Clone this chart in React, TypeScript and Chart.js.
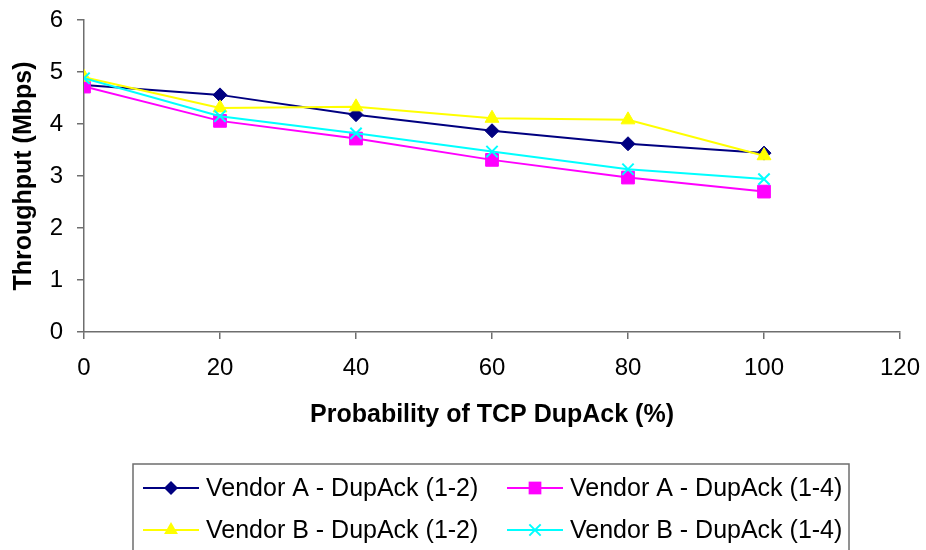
import React, { useEffect, useRef } from "react";
import { Chart, registerables } from "chart.js";

Chart.register(...registerables);

// Probability of TCP DupAck (%)
const dupAckProbability = [0, 20, 40, 60, 80, 100];

// Throughput (Mbps) per vendor / DupAck setting
const vendorA12 = [4.75, 4.56, 4.18, 3.87, 3.62, 3.44];
const vendorA14 = [4.72, 4.06, 3.72, 3.31, 2.97, 2.7];
const vendorB12 = [4.9, 4.31, 4.33, 4.11, 4.08, 3.39];
const vendorB14 = [4.88, 4.15, 3.82, 3.47, 3.13, 2.94];

const seriesLabels = [
  "Vendor A - DupAck (1-2)",
  "Vendor A - DupAck (1-4)",
  "Vendor B - DupAck (1-2)",
  "Vendor B - DupAck (1-4)",
];

const FONT = "'Liberation Sans', Arial, sans-serif";
const AXIS_COLOR = "#6e6e6e";

type Marker = "rectRot" | "rect" | "triangle" | "crossRot";

function drawMarker(ctx: CanvasRenderingContext2D, style: Marker, x: number, y: number, r: number, color: string) {
  ctx.save();
  ctx.fillStyle = color;
  ctx.strokeStyle = color;
  ctx.lineWidth = 2;
  ctx.beginPath();
  if (style === "rectRot") {
    ctx.moveTo(x - r, y);
    ctx.lineTo(x, y - r);
    ctx.lineTo(x + r, y);
    ctx.lineTo(x, y + r);
    ctx.closePath();
    ctx.fill();
  } else if (style === "rect") {
    const s = Math.SQRT1_2 * r;
    ctx.rect(x - s, y - s, 2 * s, 2 * s);
    ctx.fill();
  } else if (style === "triangle") {
    const h = r * 1.5;
    ctx.moveTo(x, y - r);
    ctx.lineTo(x + r * Math.sqrt(3) / 2, y - r + h);
    ctx.lineTo(x - r * Math.sqrt(3) / 2, y - r + h);
    ctx.closePath();
    ctx.fill();
  } else {
    const o = Math.SQRT1_2 * r;
    ctx.moveTo(x - o, y - o);
    ctx.lineTo(x + o, y + o);
    ctx.moveTo(x + o, y - o);
    ctx.lineTo(x - o, y + o);
    ctx.stroke();
  }
  ctx.restore();
}

// Boxed two-column legend under the plot, built from the datasets' own styles
const boxedLegend = {
  id: "boxedLegend",
  afterDraw(chart: any) {
    const ctx: CanvasRenderingContext2D = chart.ctx;
    const box = { left: 133, top: 464, right: 849, bottom: 570 };
    ctx.save();
    ctx.strokeStyle = AXIS_COLOR;
    ctx.lineWidth = 1.5;
    ctx.strokeRect(box.left, box.top, box.right - box.left, box.bottom - box.top);

    const colX = [143, 507];
    const rowY = [488, 530];
    const lineLen = 56;
    ctx.font = `25px ${FONT}`;
    ctx.textBaseline = "middle";
    ctx.textAlign = "left";
    chart.data.datasets.forEach((ds: any, i: number) => {
      const x0 = colX[i % 2];
      const y = rowY[Math.floor(i / 2)];
      ctx.strokeStyle = ds.borderColor;
      ctx.lineWidth = ds.borderWidth;
      ctx.beginPath();
      ctx.moveTo(x0, y);
      ctx.lineTo(x0 + lineLen, y);
      ctx.stroke();
      drawMarker(ctx, ds.pointStyle, x0 + lineLen / 2, y, ds.pointRadius, ds.borderColor);
      ctx.fillStyle = "#000";
      ctx.fillText(ds.label, x0 + lineLen + 7, y + 1);
    });
    ctx.restore();
  },
};

export default function App() {
  const canvasRef = useRef<HTMLCanvasElement | null>(null);

  useEffect(() => {
    const canvas = canvasRef.current;
    if (!canvas) return;

    const makeSeries = (values: number[]) =>
      dupAckProbability.map((x, i) => ({ x, y: values[i] }));

    const chart = new Chart(canvas, {
      type: "line",
      data: {
        datasets: [
          {
            label: seriesLabels[0],
            data: makeSeries(vendorA12),
            borderColor: "#000080",
            backgroundColor: "#000080",
            borderWidth: 2,
            pointStyle: "rectRot",
            pointRadius: 7,
            pointBorderWidth: 1,
            order: 3,
          },
          {
            label: seriesLabels[1],
            data: makeSeries(vendorA14),
            borderColor: "#ff00ff",
            backgroundColor: "#ff00ff",
            borderWidth: 2,
            pointStyle: "rect",
            pointRadius: 9,
            pointBorderWidth: 1,
            order: 2,
          },
          {
            label: seriesLabels[2],
            data: makeSeries(vendorB12),
            borderColor: "#ffff00",
            backgroundColor: "#ffff00",
            borderWidth: 2,
            pointStyle: "triangle",
            pointRadius: 8,
            pointBorderWidth: 1,
            order: 1,
          },
          {
            label: seriesLabels[3],
            data: makeSeries(vendorB14),
            borderColor: "#00ffff",
            backgroundColor: "#00ffff",
            borderWidth: 2,
            pointStyle: "crossRot",
            pointRadius: 8,
            pointBorderWidth: 2,
            order: 0,
          },
        ] as any,
      },
      options: {
        animation: false,
        responsive: false,
        devicePixelRatio: 1,
        layout: { autoPadding: false, padding: { top: 20, right: 26, bottom: 118, left: 0 } },
        plugins: {
          legend: { display: false },
          tooltip: { enabled: false },
        },
        elements: { line: { tension: 0 } },
        scales: {
          x: {
            type: "linear",
            min: 0,
            max: 120,
            ticks: {
              stepSize: 20,
              color: "#000",
              padding: 15,
              font: { family: FONT, size: 24 },
            },
            grid: {
              drawOnChartArea: false,
              drawTicks: true,
              tickLength: 7,
              color: AXIS_COLOR,
              lineWidth: 1.5,
            },
            border: { color: AXIS_COLOR, width: 1.5 },
            title: {
              display: true,
              text: "Probability of TCP DupAck (%)",
              color: "#000",
              font: { family: FONT, size: 25, weight: "bold" },
              padding: { top: 0, bottom: 2 },
            },
            afterFit: (scale: any) => {
              // fixed axis band; edge labels may overhang the layout padding
              scale.height = 100;
              scale.paddingLeft = 0;
              scale.paddingRight = 0;
            },
          },
          y: {
            type: "linear",
            min: 0,
            max: 6,
            ticks: {
              stepSize: 1,
              color: "#000",
              padding: 14,
              font: { family: FONT, size: 24 },
            },
            grid: {
              drawOnChartArea: false,
              drawTicks: true,
              tickLength: 7,
              color: AXIS_COLOR,
              lineWidth: 1.5,
            },
            border: { color: AXIS_COLOR, width: 1.5 },
            title: {
              display: true,
              text: "Throughput (Mbps)",
              color: "#000",
              font: { family: FONT, size: 25, weight: "bold" },
              padding: { top: 9, bottom: 0 },
            },
            afterFit: (scale: any) => {
              scale.width = 84;
              scale.paddingTop = 0;
              scale.paddingBottom = 0;
            },
          },
        },
      },
      plugins: [boxedLegend],
    });

    return () => chart.destroy();
  }, []);

  return (
    <div style={{ position: "absolute", left: 0, top: 0, width: 926, height: 550, background: "#fff" }}>
      <canvas ref={canvasRef} width={926} height={550} style={{ display: "block" }} />
    </div>
  );
}
